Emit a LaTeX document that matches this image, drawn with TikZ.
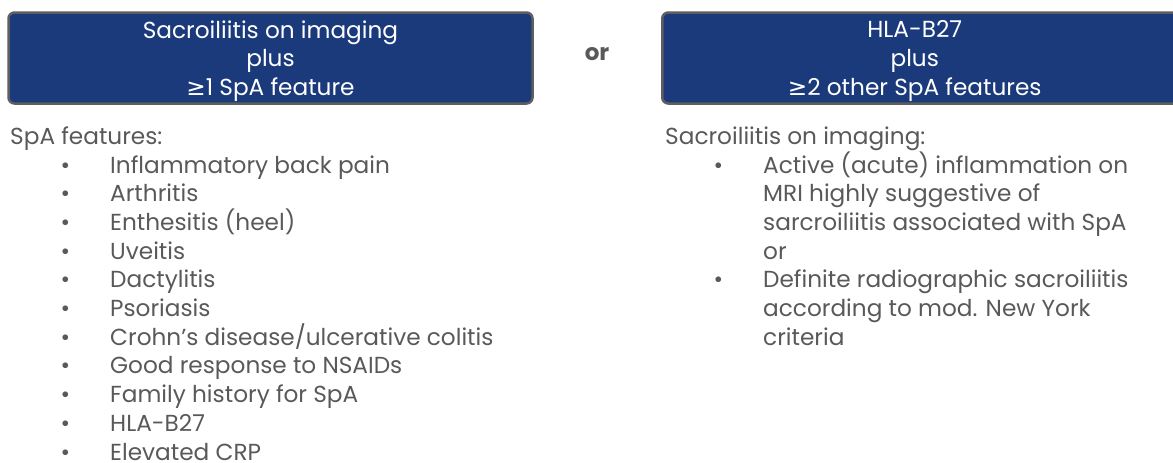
\documentclass[tikz,border=0pt]{standalone}
\usepackage{fontspec}
\setmainfont{Poppins}
\newfontfamily\symfont{DejaVu Sans}
\usetikzlibrary{positioning}
\definecolor{critblue}{HTML}{1B3A7B}
\definecolor{rim}{HTML}{5E5E5E}
\definecolor{ink}{HTML}{595959}

\tikzset{
  critbox/.style={draw=rim,line width=2.5pt,fill=critblue,rounded corners=6pt,text=white,align=center,minimum height=91pt,inner sep=0pt},
  headtext/.style={text=ink,anchor=base west,inner sep=0pt},
  itemtext/.style={text=ink,anchor=base west,inner sep=0pt,align=left},
  orword/.style={text=ink,font=\fontsize{23}{26}\selectfont\bfseries,inner sep=0pt}
}
\newcommand{\bul}{\llap{\textbullet\hskip 40pt}}
\newcommand{\armtext}[2]{\parbox{#1}{\centering\vspace*{6pt}#2}}

\begin{document}
\begin{tikzpicture}[x=1pt,y=-1pt,font=\fontsize{23.2}{28.7}\selectfont]
\useasboundingbox (0,0) rectangle (1173,463);
% the two criteria arms
\node[critbox,minimum width=524pt] (imaging) at (270.5,58) {\armtext{524pt}{Sacroiliitis on imaging\\plus\\{\symfont ≥}1 SpA feature}};
\node[critbox,anchor=west,minimum width=524pt] (hla) at (661,58) {\armtext{505pt}{HLA-B27\\plus\\{\symfont ≥}2 other SpA features}\hspace*{19pt}};
\node[orword] (or) at (597,54) {or};
% SpA feature list
\node[headtext] (feathead) at (10,144) {SpA features:};
\foreach \f [count=\i from 0] in {Inflammatory back pain,Arthritis,Enthesitis (heel),Uveitis,Dactylitis,Psoriasis,Crohn’s disease/ulcerative colitis,Good response to NSAIDs,Family history for SpA,HLA-B27,Elevated CRP}
  \node[itemtext] (feat\i) at (110,{173+28.7*\i}) {\bul\f};
% imaging list (base = last line)
\node[headtext] (imghead) at (665,144) {Sacroiliitis on imaging:};
\node[itemtext] (mri) at (763,259.1) {\bul Active (acute) inflammation on\\MRI highly suggestive of\\sarcroiliitis associated with SpA\\or};
\node[itemtext] (xray) at (763,345.2) {\bul Definite radiographic sacroiliitis\\according to mod. New York\\criteria};
\end{tikzpicture}
\end{document}
